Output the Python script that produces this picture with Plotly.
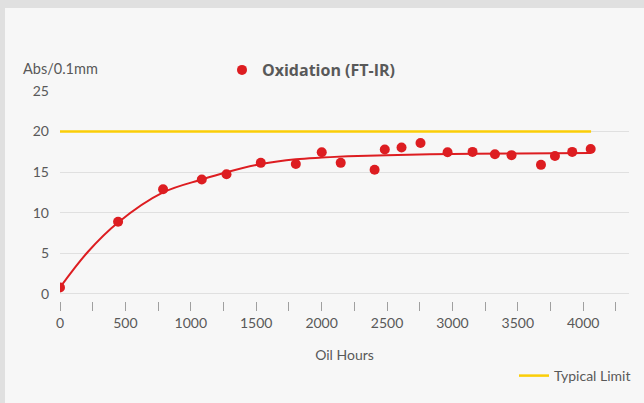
import plotly.graph_objects as go

# ---- data ----
oil_hours = [0, 444, 788, 1084, 1273, 1535, 1803, 2001, 2146, 2405, 2483, 2611,
             2756, 2963, 3154, 3325, 3452, 3677, 3784, 3916, 4057]
oxidation = [0.8, 8.9, 12.9, 14.1, 14.75, 16.15, 16.0, 17.45, 16.15, 15.3, 17.8, 18.05,
             18.6, 17.45, 17.5, 17.2, 17.1, 15.9, 17.0, 17.5, 17.85]

trend_hours = [0, 214, 444, 788, 1084, 1273, 1535, 1803, 2001, 2200, 2500, 3000, 3500, 4057]
trend_values = [0.8, 5.2, 8.8, 12.5, 14.1, 15.0, 16.0, 16.6, 16.8, 16.95, 17.1, 17.25, 17.3, 17.35]

limit_hours = [0, 4060]
limit_values = [20, 20]

x_tick_labels = ["0", "500", "1000", "1500", "2000", "2500", "3000", "3500", "4000"]
y_tick_labels = ["0", "5", "10", "15", "20", "25"]

RED = "#DD1D21"
YELLOW = "#FBCE07"
TEXT = "#595959"
FONT = "Lato"

fig = go.Figure()

fig.add_trace(go.Scatter(
    x=limit_hours, y=limit_values, mode="lines", name="Typical Limit",
    line=dict(color=YELLOW, width=2.5), legend="legend2", hoverinfo="skip"))

fig.add_trace(go.Scatter(
    x=trend_hours, y=trend_values, mode="lines", showlegend=False,
    line=dict(color=RED, width=2, shape="spline", smoothing=1.0), hoverinfo="skip"))

fig.add_trace(go.Scatter(
    x=oil_hours, y=oxidation, mode="markers", name="<b>Oxidation (FT-IR)</b>",
    marker=dict(color=RED, size=10), legend="legend"))

L, R, T, B = 60, 15, 91, 102
W, H = 644, 403
pw, ph = W - L - R, H - T - B

def px_x(p):
    return (p - L) / pw

def px_y(p):
    return (H - B - p) / ph

fig.update_layout(
    width=W, height=H,
    margin=dict(l=L, r=R, t=T, b=B, autoexpand=False),
    paper_bgcolor="#f7f7f7", plot_bgcolor="#f7f7f7",
    font=dict(family=FONT, color=TEXT, size=14),
    xaxis=dict(
        range=[0, 4350], automargin=False,
        tickvals=[int(v) for v in x_tick_labels], ticktext=x_tick_labels,
        ticks="outside", ticklen=9, tickcolor="#a0a0a0", tickwidth=1,
        minor=dict(ticks="outside", dtick=250, tick0=0, ticklen=9,
                   tickcolor="#a0a0a0", tickwidth=1, showgrid=False),
        showgrid=False, zeroline=False, showline=False,
        tickfont=dict(size=14, color=TEXT),
        title=dict(text="Oil Hours", font=dict(size=14, color=TEXT), standoff=20),
    ),
    yaxis=dict(
        range=[-0.87, 25], automargin=False,
        tickvals=[int(v) for v in y_tick_labels], ticktext=y_tick_labels,
        showgrid=True, gridcolor="#e0e0e0", gridwidth=1,
        zeroline=False, showline=False, ticks="",
        ticklabelstandoff=10,
        tickfont=dict(size=14, color=TEXT),
    ),
    legend=dict(
        orientation="h", x=px_x(222), y=px_y(70), xanchor="left", yanchor="middle",
        bgcolor="rgba(0,0,0,0)", font=dict(size=16, color=TEXT, family="Open Sans"),
    ),
    legend2=dict(
        orientation="h", x=px_x(514), y=px_y(376), xanchor="left", yanchor="middle",
        bgcolor="rgba(0,0,0,0)", font=dict(size=14, color=TEXT, family=FONT),
        itemwidth=30,
    ),
    annotations=[dict(
        text="Abs/0.1mm", xref="paper", yref="paper",
        x=px_x(21), y=px_y(69), xanchor="left", yanchor="middle",
        showarrow=False, font=dict(size=14.5, color=TEXT, family=FONT))],
    shapes=[
        dict(type="rect", xref="paper", yref="paper", layer="below",
             x0=px_x(0), x1=px_x(W), y0=px_y(8), y1=px_y(0),
             fillcolor="#e0e0e0", line=dict(width=0)),
        dict(type="rect", xref="paper", yref="paper", layer="below",
             x0=px_x(0), x1=px_x(5), y0=px_y(H), y1=px_y(0),
             fillcolor="#e0e0e0", line=dict(width=0)),
    ],
    showlegend=True,
)

fig.write_html(
    "out.html",
    config={"displayModeBar": False},
    post_script="document.body.style.margin='0';document.body.style.background='#f7f7f7';",
)
